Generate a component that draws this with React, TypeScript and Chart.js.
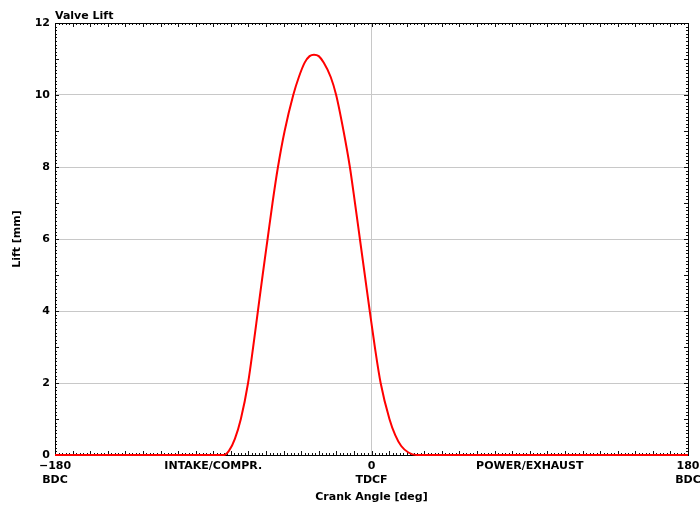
import React, { useEffect, useRef } from "react";
import { Chart, registerables } from "chart.js";

Chart.register(...registerables);

// Crank angle [deg] and valve lift [mm]
const crankAngle = [
  -180, -84, -81, -77.7, -74.3, -70.2, -67.3, -64.6, -61.9, -59.1, -56.3,
  -53.2, -49.4, -44.5, -41.3, -38, -35.2, -32.7, -30, -27.2, -23.2, -20.1,
  -15.9, -12.3, -9.4, -6.6, -3.8, -1.0, 1.9, 5.2, 10.2, 13.5, 16.9, 21, 25.4,
  180,
];
const lift = [
  0, 0, 0.12, 0.45, 1, 2, 3, 4, 5, 6, 7,
  8, 9, 10, 10.5, 10.9, 11.08, 11.12, 11.08, 10.9, 10.5, 10,
  9, 8, 7, 6, 5, 4, 3, 2, 1, 0.55, 0.25, 0.07, 0,
  0,
];

const xTickValues = [-180, -90, 0, 90, 180];
const xTickLabels: (string | string[])[] = [
  ["\u2212180", "BDC"],
  "INTAKE/COMPR.",
  ["0", "TDCF"],
  "POWER/EXHAUST",
  ["180", "BDC"],
];
const yMin = 0;
const yMax = 12;
const yStep = 2;

const chartTitle = "Valve Lift";
const xTitle = "Crank Angle [deg]";
const yTitle = "Lift [mm]";

const FONT = "'DejaVu Sans', sans-serif";

const framePlugin = {
  id: "frame",
  beforeDatasetsDraw(chart: any) {
    const { ctx, chartArea, scales } = chart;
    const { left, right, top, bottom } = chartArea;
    const x = scales.x;
    const y = scales.y;
    ctx.save();
    ctx.strokeStyle = "#111";
    ctx.lineWidth = 1;
    ctx.beginPath();
    for (let d = -180; d <= 180; d += 2) {
      const px = Math.round(x.getPixelForValue(d)) + 0.5;
      const len = d % 10 === 0 ? 4 : 2;
      ctx.moveTo(px, bottom);
      ctx.lineTo(px, bottom - len);
      ctx.moveTo(px, top);
      ctx.lineTo(px, top + len);
    }
    for (let i = 0; i <= 120; i++) {
      const v = i / 10;
      const py = Math.round(y.getPixelForValue(v)) + 0.5;
      const len = i % 10 === 0 ? 4 : 2;
      ctx.moveTo(left, py);
      ctx.lineTo(left + len, py);
      ctx.moveTo(right, py);
      ctx.lineTo(right - len, py);
    }
    ctx.stroke();
    ctx.strokeStyle = "#000";
    ctx.strokeRect(
      Math.round(left) + 0.5,
      Math.round(top) + 0.5,
      Math.round(right - left),
      Math.round(bottom - top)
    );
    ctx.restore();
  },
  afterDraw(chart: any) {
    const { ctx, chartArea } = chart;
    ctx.save();
    ctx.font = `bold 11px ${FONT}`;
    ctx.fillStyle = "#000";
    ctx.textAlign = "left";
    ctx.textBaseline = "middle";
    ctx.fillText(chartTitle, chartArea.left, 16);
    ctx.restore();
  },
};

export default function App() {
  const canvasRef = useRef<HTMLCanvasElement | null>(null);

  useEffect(() => {
    const canvas = canvasRef.current;
    if (!canvas) return;
    const points = crankAngle.map((a, i) => ({ x: a, y: lift[i] }));
    const chart = new Chart(canvas, {
      type: "line",
      data: {
        datasets: [
          {
            data: points,
            borderColor: "#ff0000",
            borderWidth: 2,
            pointRadius: 0,
            fill: false,
            cubicInterpolationMode: "monotone",
            clip: false as any,
          },
        ],
      },
      options: {
        animation: false,
        responsive: false,
        devicePixelRatio: 1,
        layout: { padding: { top: 23, right: 12, left: 0, bottom: 0 } },
        plugins: {
          legend: { display: false },
          tooltip: { enabled: false },
          title: { display: false },
        },
        scales: {
          x: {
            type: "linear",
            min: -180,
            max: 180,
            afterBuildTicks: (scale: any) => {
              scale.ticks = xTickValues.map((v) => ({ value: v }));
            },
            afterFit: (scale: any) => {
              scale.height = 55;
              scale.paddingLeft = 0;
              scale.paddingRight = 0;
            },
            border: { display: false },
            grid: {
              drawTicks: false,
              color: (c: any) =>
                c.tick && c.tick.value === 0 ? "#c8c8c8" : "rgba(0,0,0,0)",
              lineWidth: 1,
            },
            ticks: {
              padding: 4,
              maxRotation: 0,
              autoSkip: false,
              color: "#000",
              font: { family: FONT, size: 11, weight: "bold", lineHeight: 1.3 },
              callback: (value: any) => {
                const idx = xTickValues.indexOf(Number(value));
                return idx >= 0 ? xTickLabels[idx] : "";
              },
            },
            title: {
              display: true,
              text: xTitle,
              color: "#000",
              font: { family: FONT, size: 11, weight: "bold" },
              padding: { top: 0, bottom: 6 },
            },
          },
          y: {
            type: "linear",
            min: yMin,
            max: yMax,
            afterFit: (scale: any) => {
              scale.width = 55;
              scale.paddingTop = 0;
              scale.paddingBottom = 0;
            },
            border: { display: false },
            grid: {
              drawTicks: false,
              color: (c: any) =>
                c.tick && (c.tick.value === yMin || c.tick.value === yMax)
                  ? "rgba(0,0,0,0)"
                  : "#c8c8c8",
              lineWidth: 1,
            },
            ticks: {
              stepSize: yStep,
              padding: 5,
              color: "#000",
              font: { family: FONT, size: 11, weight: "bold" },
            },
            title: {
              display: true,
              text: yTitle,
              color: "#000",
              font: { family: FONT, size: 11, weight: "bold" },
              padding: { top: 11, bottom: 0 },
            },
          },
        },
      },
      plugins: [framePlugin],
    } as any);
    return () => chart.destroy();
  }, []);

  return (
    <div
      style={{
        position: "absolute",
        left: 0,
        top: 0,
        width: 700,
        height: 510,
        background: "#fff",
      }}
    >
      <canvas ref={canvasRef} width={700} height={510} />
    </div>
  );
}
